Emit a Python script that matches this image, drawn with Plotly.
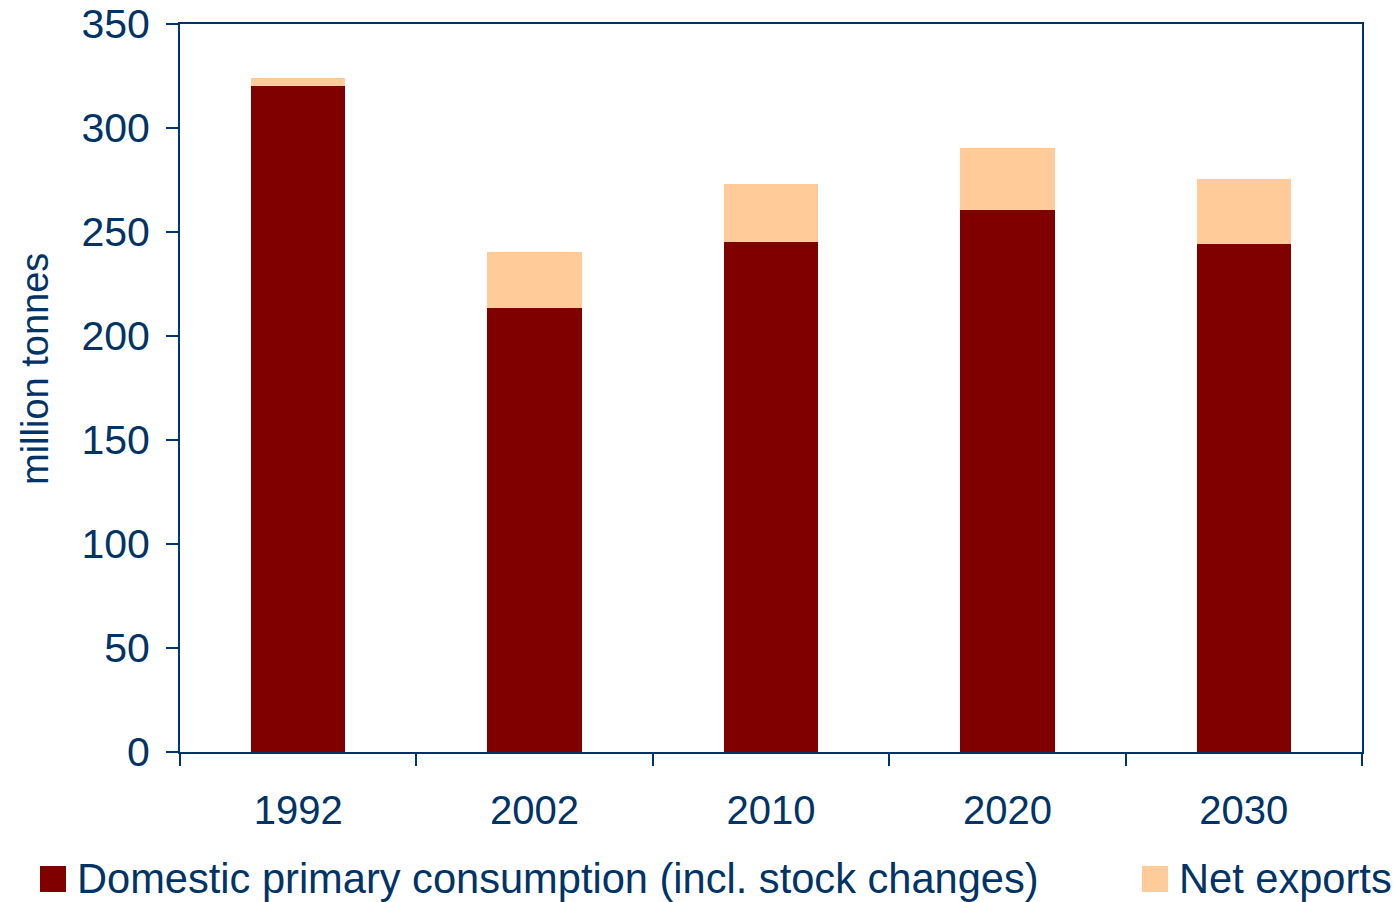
import plotly.graph_objects as go

years = ["1992", "2002", "2010", "2020", "2030"]
domestic = [320, 213.5, 245, 260.5, 244]
net_exports = [4, 27, 28, 30, 31.5]

navy = "#003366"
dark = "#800000"
light = "#FFCC99"
font_family = "Liberation Sans, Arial, sans-serif"

fig = go.Figure()
fig.add_trace(go.Bar(x=years, y=domestic, name="Domestic primary consumption (incl. stock changes)",
                     marker=dict(color=dark, line=dict(width=0)), showlegend=False))
fig.add_trace(go.Bar(x=years, y=net_exports, name="Net exports",
                     marker=dict(color=light, line=dict(width=0)), showlegend=False))

# target plot-area edges in window pixels; page body adds an 8px offset
OFF = 8
PL, PR, PT, PB = 180, 1362, 24, 752
W, H = 1399, 902


def px_x(v):
    return (v - PL) / (PR - PL)


def px_y(v):
    return (PB - v) / (PB - PT)


legend_items = [("Domestic primary consumption (incl. stock changes)", dark, 40),
                ("Net exports", light, 1142)]
for label, col, px in legend_items:
    fig.add_shape(type="rect", xref="paper", yref="paper",
                  x0=px_x(px), x1=px_x(px + 26), y0=px_y(892), y1=px_y(866),
                  fillcolor=col, line=dict(width=0))
    fig.add_annotation(xref="paper", yref="paper", x=px_x(px + 36), y=px_y(878),
                       text=label, showarrow=False, xanchor="left", yanchor="middle",
                       borderpad=0, font=dict(family=font_family, size=41.6, color=navy))

# y-axis title
fig.add_annotation(xref="paper", yref="paper", x=px_x(35), y=px_y(369),
                   text="million tonnes", textangle=-90, showarrow=False,
                   xanchor="center", yanchor="middle", borderpad=0,
                   font=dict(family=font_family, size=38, color=navy))

fig.update_layout(
    barmode="stack",
    bargap=0.6,
    width=W, height=H,
    margin=dict(l=PL - OFF, r=W - PR + OFF, t=PT - OFF, b=H - PB + OFF, autoexpand=False),
    plot_bgcolor="white", paper_bgcolor="white",
    font=dict(family=font_family, color=navy),
    xaxis=dict(showline=True, linecolor=navy, linewidth=2, mirror=True,
               ticks="outside", tickson="boundaries", ticklen=12, tickwidth=2, tickcolor=navy,
               tickfont=dict(size=40, color=navy), ticklabelstandoff=22, showgrid=False,
               ticklabeloverflow="allow"),
    yaxis=dict(range=[0, 350], dtick=50, showline=True, linecolor=navy, linewidth=2, mirror=True,
               ticks="outside", ticklen=12, tickwidth=2, tickcolor=navy,
               tickfont=dict(size=41, color=navy), showgrid=False, zeroline=False,
               ticklabelstandoff=8, ticklabeloverflow="allow"),
)

fig.write_html("out.html")
